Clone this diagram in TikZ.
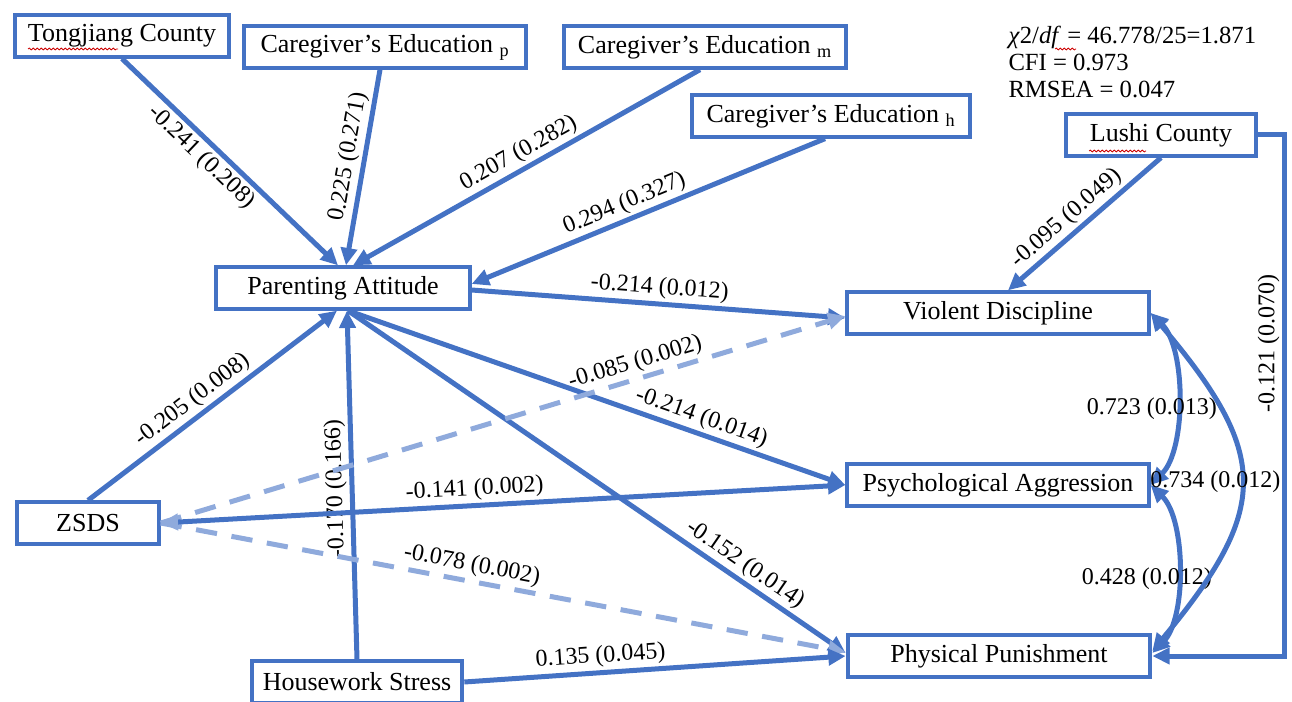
\documentclass[tikz,border=0pt]{standalone}
\usepackage{fontspec}
\setmainfont{Liberation Serif}
\usetikzlibrary{arrows.meta,calc,decorations.pathmorphing}

\definecolor{semblue}{RGB}{68,114,196}
\definecolor{semlight}{RGB}{143,170,220}

\tikzset{every picture/.style={line width=0.75pt}}
\tikzset{
  varbox/.style={draw=semblue, line width=3pt, fill=white, minimum height=31pt, inner sep=2pt, font=\fontsize{19.5}{22}\selectfont},
  effect/.style={draw=semblue, line width=3.75pt, -{Triangle[length=13pt,width=12pt]}},
  weak/.style={draw=semlight, line width=3.75pt, dash pattern=on 16pt off 11pt, -{Triangle[length=13pt,width=12pt]}},
  covar/.style={draw=semblue, line width=3.75pt, {Triangle[length=13pt,width=12pt]}-{Triangle[length=13pt,width=12pt]}},
  coef/.style={font=\fontsize{18}{20}\selectfont, inner sep=2pt},
  squiggle/.style={draw=red!80!black, line width=0.6pt, decorate, decoration={snake, amplitude=0.7pt, segment length=3pt}}
}

\begin{document}
\begin{tikzpicture}[x=0.75pt,y=0.75pt,yscale=-1,xscale=1]
    \useasboundingbox (0,0) rectangle (1292,702);

    %Shape: Rectangle (exogenous)
    \node[varbox, minimum width=161pt] (tong) at (122,36) {Tongjiang County};
    \node[varbox, minimum width=211pt] (edp) at (385,47) {Caregiver’s Education \textsubscript{p}};
    \node[varbox, minimum width=211pt] (edm) at (705,47) {Caregiver’s Education \textsubscript{m}};
    \node[varbox, minimum width=208pt] (edh) at (831,116) {Caregiver’s Education \textsubscript{h}};
    \node[varbox, minimum width=142pt] (lushi) at (1161,135) {Lushi County};
    \node[varbox, minimum width=106pt] (zsds) at (88,523) {ZSDS};
    \node[varbox, minimum width=158pt] (hws) at (357,682) {Housework Stress};
    %Shape: Rectangle (mediator)
    \node[varbox, minimum width=190pt] (pa) at (343,288) {Parenting Attitude};
    %Shape: Rectangle (outcomes)
    \node[varbox, minimum width=226pt] (vd) at (998,313) {Violent Discipline};
    \node[varbox, minimum width=226pt] (pag) at (998,485) {Psychological Aggression};
    \node[varbox, minimum width=227pt] (pp) at (999,656) {Physical Punishment};

    % Text Node
    \node[anchor=west, align=left, inner sep=0pt, font=\fontsize{18.5}{20.25}\selectfont] (fit) at (1008,62) {\textit{χ}2/\textit{df} = 46.778/25=1.871\\CFI = 0.973\\RMSEA = 0.047};

    %Straight Lines into parenting attitude
    \draw[effect] (tong.south) -- ($(pa.north)+(-5,0)$) node[coef, rotate=-43.6, pos=0.42, below] {-0.241 (0.208)};
    \draw[effect] ($(edp.south)+(-5,0)$) -- ($(pa.north)+(3,0)$) node[coef, rotate=80, pos=0.46, above] {0.225 (0.271)};
    \draw[effect] ($(edm.south)+(-5,0)$) -- ($(pa.north)+(10,0)$) node[coef, rotate=29.3, pos=0.5, above] {0.207 (0.282)};
    \draw[effect] ($(edh.south)+(-6,0)$) -- ($(pa.east)+(0,-4)$) node[coef, rotate=22.4, pos=0.55, above] {0.294 (0.327)};
    \draw[effect] (zsds.north) -- ($(pa.south)+(-6,0)$) node[coef, rotate=37.3, pos=0.46, above] {-0.205 (0.008)};
    \draw[effect] (hws.north) -- ($(pa.south)+(4,0)$) node[coef, rotate=91.6, pos=0.49, above] {-0.170 (0.166)};

    %Straight Lines into outcomes
    \draw[effect] ($(pa.east)+(0,2)$) -- ($(vd.west)+(0,5)$) node[coef, rotate=-4.3, pos=0.5, above] {-0.214 (0.012)};
    \draw[effect] ($(pa.south)+(5,0)$) -- (pag.west) node[coef, rotate=-19.4, pos=0.7, above] {-0.214 (0.014)};
    \draw[effect] ($(pa.south)+(5,0)$) -- ($(pp.west)+(0,-3)$) node[coef, rotate=-34.6, pos=0.78, above] {-0.152 (0.014)};
    \draw[weak] (zsds.east) -- ($(vd.west)+(0,3)$) node[coef, rotate=16.8, pos=0.7, above] {-0.085 (0.002)};
    \draw[weak] (zsds.east) -- ($(pp.west)+(0,-4)$) node[coef, rotate=-10.7, pos=0.45, above] {-0.078 (0.002)};
    \draw[effect, {Triangle[length=13pt,width=12pt,color=semlight]}-{Triangle[length=13pt,width=12pt]}] (zsds.east) -- (pag.west) node[coef, rotate=3.2, pos=0.46, above] {-0.141 (0.002)};
    \draw[effect] (hws.east) -- (pp.west) node[coef, rotate=3.9, pos=0.36, above] {0.135 (0.045)};
    \draw[effect] (lushi.south) -- ($(vd.north)+(10,0)$) node[coef, rotate=41, pos=0.55, above] {-0.095 (0.049)};
    \draw[effect] (lushi.east) -- ++(27,0) |- node[coef, rotate=90, pos=0.2, above] {-0.121 (0.070)} (pp.east);

    %Curve Lines (residual covariances)
    \draw[covar] (vd.east) to[bend right=45, looseness=0.75] node[coef, pos=0.55, xshift=-19pt] {0.723 (0.013)} (pag.east);
    \draw[covar] (pag.east) to[bend right=45, looseness=0.75] node[coef, pos=0.55, xshift=-23pt] {0.428 (0.012)} ($(pp.east)+(0,-3)$);
    \draw[covar] (vd.east) to[bend right=40, looseness=1.4] node[coef, pos=0.5, xshift=-19pt] {0.734 (0.012)} ($(pp.east)+(0,-5)$);

    % spell-check marks
    \draw[squiggle] (28,49) -- (118,49);
    \draw[squiggle] (1055,49) -- (1076,49);
    \draw[squiggle] (1089,151) -- (1146,151);
\end{tikzpicture}
\end{document}
